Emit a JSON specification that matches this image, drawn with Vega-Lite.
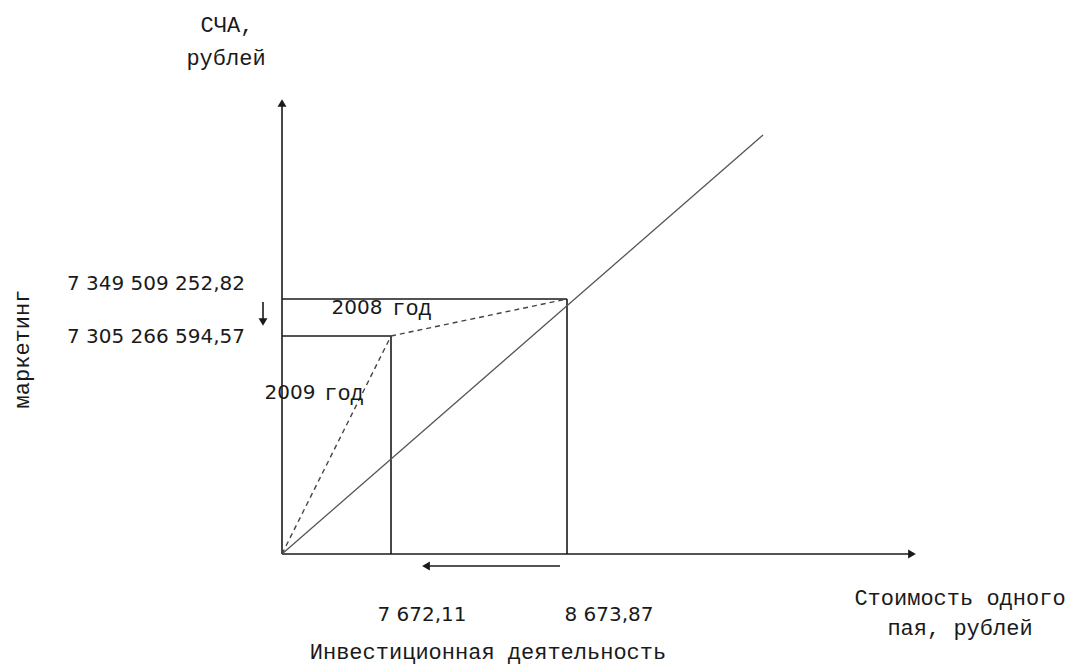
{
  "$schema": "https://vega.github.io/schema/vega-lite/v6.json",
  "width": 1079,
  "height": 665,
  "autosize": {"type": "fit", "contains": "padding"},
  "padding": 0,
  "background": "white",
  "view": {"stroke": null},
  "config": {"axis": {"disable": true}},

  "datasets": {
    "lines": [
      {"kind": "axis", "x": 0, "y": 0, "x2": 0, "y2": 450},
      {"kind": "axis", "x": 0, "y": 0, "x2": 629, "y2": 0},
      {"kind": "axis", "x": 0, "y": 255, "x2": 285, "y2": 255},
      {"kind": "axis", "x": 285, "y": 0, "x2": 285, "y2": 255},
      {"kind": "axis", "x": 0, "y": 218, "x2": 109, "y2": 218},
      {"kind": "axis", "x": 109, "y": 0, "x2": 109, "y2": 218},
      {"kind": "axis", "x": 278, "y": -12, "x2": 146, "y2": -12},
      {"kind": "axis", "x": -19, "y": 252, "x2": -19, "y2": 234},
      {"kind": "diag", "x": 0, "y": 0, "x2": 481, "y2": 419},
      {"kind": "dash", "x": 0, "y": 0, "x2": 109, "y2": 218},
      {"kind": "dash", "x": 109, "y": 218, "x2": 285, "y2": 255}
    ],
    "heads": [
      {"dir": "up", "x": 0, "y": 451},
      {"dir": "right", "x": 630, "y": 0},
      {"dir": "left", "x": 144, "y": -12},
      {"dir": "down", "x": -19, "y": 232}
    ],
    "mono": [
      {"label": "СЧА,", "x": -55, "y": 529},
      {"label": "рублей", "x": -56, "y": 496},
      {"label": "год", "x": 130, "y": 246},
      {"label": "год", "x": 62, "y": 161},
      {"label": "Стоимость одного", "x": 678, "y": -44},
      {"label": "пая, рублей", "x": 678, "y": -74},
      {"label": "Инвестиционная деятельность", "x": 206, "y": -98}
    ],
    "sans": [
      {"label": "7 349 509 252,82", "x": -126, "y": 270},
      {"label": "7 305 266 594,57", "x": -126, "y": 217},
      {"label": "2008", "x": 75, "y": 246},
      {"label": "2009", "x": 8, "y": 161},
      {"label": "7 672,11", "x": 140, "y": -61},
      {"label": "8 673,87", "x": 327, "y": -61}
    ],
    "side": [
      {"label": "маркетинг", "x": -260, "y": 205}
    ]
  },

  "encoding": {
    "x": {"field": "x", "type": "quantitative", "scale": {"domain": [-282, 797], "nice": false, "zero": false}},
    "y": {"field": "y", "type": "quantitative", "scale": {"domain": [-111, 554], "nice": false, "zero": false}}
  },

  "layer": [
    {
      "data": {"name": "lines"},
      "transform": [{"filter": "datum.kind == 'axis'"}],
      "mark": {"type": "rule", "color": "#1a1a1a", "strokeWidth": 1.6},
      "encoding": {"x2": {"field": "x2"}, "y2": {"field": "y2"}}
    },
    {
      "data": {"name": "lines"},
      "transform": [{"filter": "datum.kind == 'diag'"}],
      "mark": {"type": "rule", "color": "#555555", "strokeWidth": 1.3},
      "encoding": {"x2": {"field": "x2"}, "y2": {"field": "y2"}}
    },
    {
      "data": {"name": "lines"},
      "transform": [{"filter": "datum.kind == 'dash'"}],
      "mark": {"type": "rule", "color": "#444444", "strokeWidth": 1.4, "strokeDash": [5, 4]},
      "encoding": {"x2": {"field": "x2"}, "y2": {"field": "y2"}}
    },
    {
      "data": {"name": "heads"},
      "mark": {"type": "point", "filled": true, "color": "#1a1a1a", "size": 80, "opacity": 1},
      "encoding": {
        "shape": {
          "field": "dir",
          "type": "nominal",
          "scale": {"domain": ["up", "right", "left", "down"], "range": ["triangle-up", "triangle-right", "triangle-left", "triangle-down"]},
          "legend": null
        }
      }
    },
    {
      "data": {"name": "mono"},
      "mark": {"type": "text", "font": "Liberation Mono", "fontSize": 22, "color": "#1a1a1a", "align": "center", "baseline": "middle"},
      "encoding": {"text": {"field": "label"}}
    },
    {
      "data": {"name": "sans"},
      "mark": {"type": "text", "font": "DejaVu Sans", "fontSize": 20, "color": "#1a1a1a", "align": "center", "baseline": "middle"},
      "encoding": {"text": {"field": "label"}}
    },
    {
      "data": {"name": "side"},
      "mark": {"type": "text", "font": "Liberation Mono", "fontSize": 22, "color": "#1a1a1a", "align": "center", "baseline": "middle", "angle": 270},
      "encoding": {"text": {"field": "label"}}
    }
  ]
}
